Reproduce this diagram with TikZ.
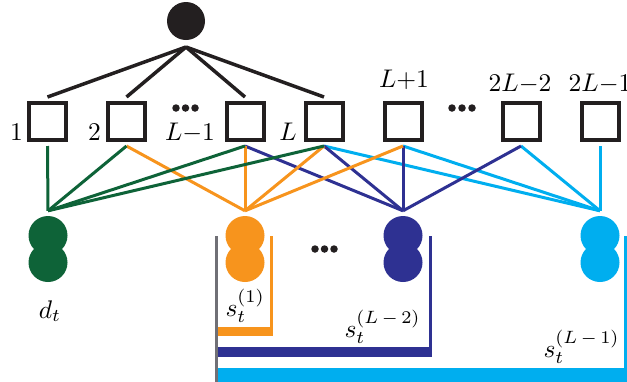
\documentclass[tikz,border=0pt]{standalone}
\usetikzlibrary{calc}
\definecolor{ink}{RGB}{35,31,32}
\definecolor{cgreen}{RGB}{14,99,56}
\definecolor{corange}{RGB}{247,148,29}
\definecolor{cnavy}{RGB}{46,49,146}
\definecolor{cblue}{RGB}{0,174,239}
\definecolor{cgray}{RGB}{112,112,118}
\begin{document}
\begin{tikzpicture}[x=1pt,y=-1pt,
  unit/.style={draw=ink, line width=4pt, minimum size=37pt, inner sep=0pt},
  blob/.style={circle, fill=#1, minimum size=39pt, inner sep=0pt},
  lbl/.style={scale=2.55, inner sep=0pt, anchor=base},
  lblw/.style={lbl, anchor=base west},
  tie/.style={line width=3.5pt, draw=ink},
  wire/.style={line width=3pt, draw=#1},
  dotmark/.style={circle, fill=ink, minimum size=7.5pt, inner sep=0pt},
]
\useasboundingbox (0,0) rectangle (627,381);

% root
\node[circle, fill=ink, minimum size=38pt, inner sep=0pt] (root) at (186,21) {};
\coordinate (ra) at (186,47);

% row of units
\foreach \i/\x in {1/47.5, 2/126.5, 3/245, 4/324, 5/403, 6/521, 7/600} {
  \node[unit] (b\i) at (\x,121.5) {};
  \coordinate (t\i) at ($(b\i.north)+(0,-4)$);
  \coordinate (u\i) at ($(b\i.south)+(0,4)$);
}

% unit labels
\node[lbl] (n1) at (16.5,140) {$1$};
\node[lbl] (n2) at (94.5,140) {$2$};
\node[lbl] (n3) at (190,140) {$L{-}1$};
\node[lbl] (n4) at (288,140) {$L$};
\node[lbl] (n5) at (404,87) {$L{+}1$};
\node[lbl] (n6) at (520,91) {$2L{-}2$};
\node[lbl] (n7) at (600,91) {$2L{-}1$};

% ellipsis dots
\foreach \k/\x/\y in {a1/176/108, a2/185.5/108, a3/195/108,
                      b1/452/108, b2/462/108, b3/472/108,
                      c1/315/249, c2/324.5/249, c3/334/249}
  \node[dotmark] (dot\k) at (\x,\y) {};

% root to first L units
\foreach \i in {1,2,3,4}
  \draw[tie] (ra) -- (t\i);

% state blobs
\foreach \s/\x/\c in {g/48/cgreen, o/245/corange, n/403/cnavy, c/600/cblue} {
  \node[blob=\c] (\s top) at (\x,235.5) {};
  \node[blob=\c] (\s bot) at (\x,262.5) {};
  \coordinate (\s a) at ($(\s top.north)+(0,-5)$);
}

% wires from units to states
\foreach \i in {4,5,6,7} \draw[wire=cblue] (ca) -- (u\i);
\foreach \i in {3,4,5,6} \draw[wire=cnavy] (na) -- (u\i);
\foreach \i in {2,3,4,5} \draw[wire=corange] (oa) -- (u\i);
\foreach \i in {1,2,3,4} \draw[wire=cgreen] (ga) -- (u\i);

% state labels
\node[lbl] (ldt) at (50,318) {$d_t$};
\node[lblw] (ls1) at (225,316) {$s_t^{(1)}$};
\node[lblw] (ls2) at (344,337) {$s_t^{(L\mkern3mu{-}\mkern3mu2)}$};
\node[lblw] (ls3) at (543,357) {$s_t^{(L\mkern3mu{-}\mkern3mu1)}$};

% nested brackets
\draw[cgray, line width=3pt] (216.5,236) -- (216.5,382);
\draw[corange, line width=3pt] (271.5,236) -- (271.5,336);
\fill[corange] (218,327) rectangle (273,336);
\draw[cnavy, line width=3pt] (430.5,236) -- (430.5,357);
\fill[cnavy] (218,347) rectangle (432,357);
\draw[cblue, line width=3pt] (625,236) -- (625,382);
\fill[cblue] (218,368) rectangle (627,382);
\end{tikzpicture}
\end{document}
